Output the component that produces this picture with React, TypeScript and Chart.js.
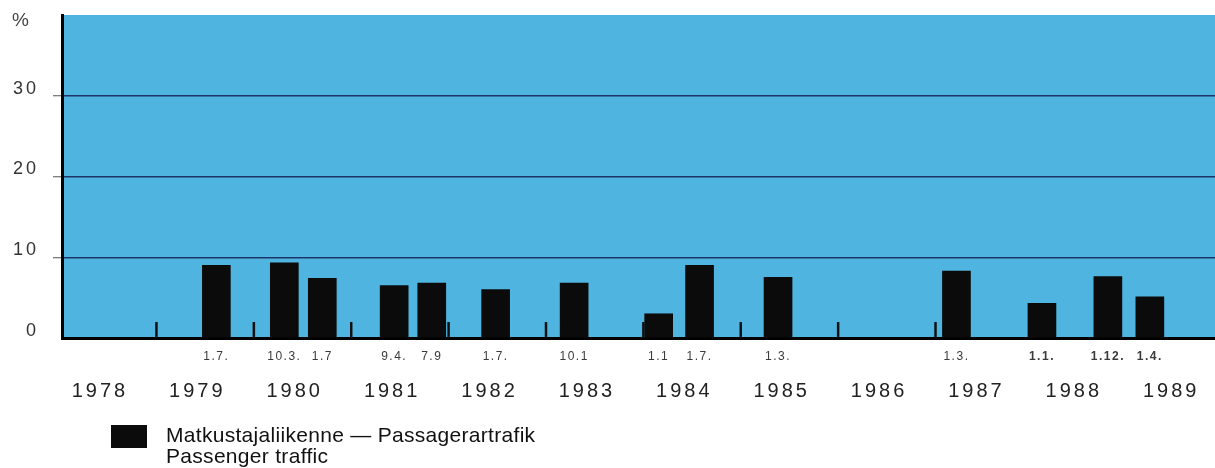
import React, { useEffect, useRef } from 'react';
import { Chart, registerables } from 'chart.js';

Chart.register(...registerables);

// Dates of fare increases (labels under the bars) and their position in decimal years
const dateLabels = ['1.7.', '10.3.', '1.7', '9.4.', '7.9', '1.7.', '10.1', '1.1', '1.7.', '1.3.', '1.3.', '1.1.', '1.12.', '1.4.'];
const barYears = [1979.615, 1980.313, 1980.703, 1981.441, 1981.827, 1982.483, 1983.289, 1984.157, 1984.577, 1985.383, 1987.215, 1988.093, 1988.77, 1989.201];
// Passenger traffic fare increase, %
const passengerIncrease = [9.0, 9.3, 7.4, 6.5, 6.8, 6.0, 6.8, 3.0, 9.0, 7.5, 8.3, 4.3, 7.6, 5.1];
const yearLabels = [1978, 1979, 1980, 1981, 1982, 1983, 1984, 1985, 1986, 1987, 1988, 1989];
const yearBoundaries = [1979, 1980, 1981, 1982, 1983, 1984, 1985, 1986, 1987, 1988];
const yTicks = [0, 10, 20, 30];
const unitLabel = '%';
const legendLines = ['Matkustajaliikenne — Passagerartrafik', 'Passenger traffic'];

const BLUE = '#4fb4df';
const FONT = '"Liberation Sans", Arial, sans-serif';

const decorations = {
  id: 'decorations',
  beforeDraw(chart: any) {
    const { ctx, chartArea: a } = chart;
    ctx.save();
    ctx.fillStyle = BLUE;
    ctx.fillRect(a.left, a.top, a.right - a.left, a.bottom - a.top);
    ctx.restore();
    ctx.letterSpacing = '3px';
  },
  beforeDatasetsDraw(chart: any) {
    const { ctx } = chart;
    const xs = chart.scales.x;
    const ys = chart.scales.y;
    const y0 = ys.getPixelForValue(0);
    ctx.save();
    ctx.strokeStyle = '#111';
    ctx.lineWidth = 2.5;
    yearBoundaries.forEach((yr) => {
      const px = xs.getPixelForValue(yr);
      ctx.beginPath();
      ctx.moveTo(px, y0);
      ctx.lineTo(px, y0 - 16);
      ctx.stroke();
    });
    ctx.restore();
  },
  afterDatasetsDraw(chart: any) {
    chart.ctx.letterSpacing = '1.5px';
  },
  afterDraw(chart: any) {
    const { ctx } = chart;
    ctx.letterSpacing = '0px';
    ctx.save();
    ctx.fillStyle = '#444';
    ctx.font = `19px ${FONT}`;
    ctx.textBaseline = 'middle';
    ctx.textAlign = 'left';
    ctx.fillText(unitLabel, 12, 21);
    // legend
    ctx.fillStyle = '#0b0b0b';
    ctx.fillRect(111, 425, 36, 23);
    ctx.fillStyle = '#111';
    ctx.font = `21px ${FONT}`;
    ctx.letterSpacing = '0.3px';
    ctx.textBaseline = 'alphabetic';
    ctx.fillText(legendLines[0], 166, 442);
    ctx.fillText(legendLines[1], 166, 463);
    ctx.restore();
    ctx.letterSpacing = '0px';
  },
};

export default function App() {
  const ref = useRef<HTMLCanvasElement | null>(null);
  useEffect(() => {
    document.body.style.margin = '0';
    const canvas = ref.current;
    if (!canvas) return;
    const xMin = 1978.03;
    const xMax = 1989.87;
    const chart = new Chart(canvas, {
      type: 'bar',
      data: {
        datasets: [
          {
            label: legendLines.join(' '),
            data: barYears.map((x, i) => ({ x, y: passengerIncrease[i] })),
            backgroundColor: '#0b0b0b',
            borderWidth: 0,
            barThickness: 28,
          },
        ],
      },
      options: {
        animation: false,
        responsive: false,
        devicePixelRatio: 1,
        layout: { padding: { top: 15, bottom: 50, left: 0, right: 0 } },
        plugins: { legend: { display: false }, tooltip: { enabled: false } },
        scales: {
          x: {
            type: 'linear',
            position: 'bottom',
            offset: false,
            min: xMin,
            max: xMax,
            weight: 0,
            grid: { display: false, offset: false },
            border: { display: true, color: '#000', width: 3 },
            afterBuildTicks: (s: any) => {
              s.ticks = barYears.map((v) => ({ value: v }));
            },
            afterFit: (s: any) => {
              s.height = 30;
              s.paddingLeft = 0;
              s.paddingRight = 0;
            },
            ticks: {
              z: 1,
              autoSkip: false,
              maxRotation: 0,
              minRotation: 0,
              padding: 3,
              color: '#3a3a3a',
              font: (c: any) => ({ size: 12, family: FONT, weight: c.index >= 11 ? 'bold' : 'normal' }),
              callback: (_v: any, i: number) => dateLabels[i],
            },
          },
          x2: {
            type: 'linear',
            position: 'bottom',
            offset: false,
            min: xMin,
            max: xMax,
            weight: 1,
            grid: { display: false, offset: false },
            border: { display: false },
            afterBuildTicks: (s: any) => {
              s.ticks = yearLabels.map((v) => ({ value: v + 0.42 }));
            },
            afterFit: (s: any) => {
              s.height = 50;
              s.paddingLeft = 0;
              s.paddingRight = 0;
            },
            ticks: {
              autoSkip: false,
              maxRotation: 0,
              minRotation: 0,
              padding: 3,
              color: '#222',
              font: { size: 20, family: FONT },
              callback: (_v: any, i: number) => String(yearLabels[i]),
            },
          },
          y: {
            type: 'linear',
            position: 'left',
            min: 0,
            max: 40,
            afterBuildTicks: (s: any) => {
              s.ticks = yTicks.map((v) => ({ value: v }));
            },
            afterFit: (s: any) => {
              s.width = 62;
              s.paddingTop = 0;
              s.paddingBottom = 0;
            },
            border: { display: true, color: '#000', width: 3 },
            grid: {
              color: (c: any) => (c.tick && c.tick.value > 0 ? '#1d3566' : 'rgba(0,0,0,0)'),
              lineWidth: 1.5,
              tickLength: 9,
              tickColor: (c: any) => (c.tick && c.tick.value > 0 ? '#555' : 'rgba(0,0,0,0)'),
              tickWidth: 1,
            },
            ticks: {
              padding: 14,
              labelOffset: -7,
              color: '#333',
              font: { size: 18, family: FONT },
              callback: (v: any) => String(v),
            },
          },
        },
      },
      plugins: [decorations],
    } as any);
    return () => chart.destroy();
  }, []);
  return (
    <div style={{ width: 1215, height: 468, position: 'relative', background: '#fff' }}>
      <canvas ref={ref} width={1215} height={468} style={{ display: 'block', width: 1215, height: 468 }} />
    </div>
  );
}
